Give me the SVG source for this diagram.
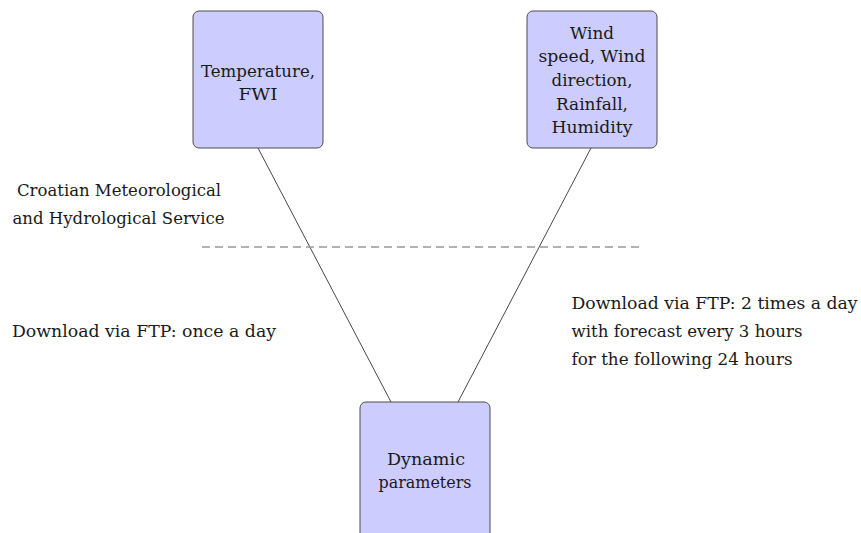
<svg xmlns="http://www.w3.org/2000/svg" width="861" height="533" viewBox="0 0 861 533">
<style>
.box{fill:#ccccff;stroke:#4d4d4d;stroke-width:1}
text{font-family:'DejaVu Serif','Liberation Serif',serif;font-size:16.5px;fill:#1a1a1a}
.c{text-anchor:middle}
.conn{stroke:#333;stroke-width:0.9;fill:none}
.dash{stroke:#999;stroke-width:1.3;stroke-dasharray:8 5;fill:none}
</style>
<rect width="861" height="533" fill="#fff"/>
<g id="connectors">
<line class="conn" x1="258" y1="148" x2="391" y2="402"/>
<line class="conn" x1="591" y1="148" x2="458" y2="402"/>
</g>
<line class="dash" x1="202" y1="247" x2="643" y2="247"/>
<g id="temperature">
<rect class="box" x="193" y="11" width="130" height="137" rx="6"/>
<text class="c" x="258" y="77" textLength="114" lengthAdjust="spacingAndGlyphs">Temperature,</text>
<text class="c" x="258" y="100" textLength="39" lengthAdjust="spacingAndGlyphs">FWI</text>
</g>
<g id="wind">
<rect class="box" x="527" y="11" width="130" height="137" rx="6"/>
<text class="c" x="592" y="38.5" textLength="44" lengthAdjust="spacingAndGlyphs">Wind</text>
<text class="c" x="592" y="61.5" textLength="107" lengthAdjust="spacingAndGlyphs">speed, Wind</text>
<text class="c" x="592" y="85.5" textLength="81" lengthAdjust="spacingAndGlyphs">direction,</text>
<text class="c" x="592" y="109.5" textLength="72" lengthAdjust="spacingAndGlyphs">Rainfall,</text>
<text class="c" x="592" y="132.5" textLength="81" lengthAdjust="spacingAndGlyphs">Humidity</text>
</g>
<g id="dynamic">
<rect class="box" x="360" y="402" width="130" height="145" rx="6"/>
<text class="c" x="426" y="465" textLength="78" lengthAdjust="spacingAndGlyphs">Dynamic</text>
<text class="c" x="425" y="488" textLength="93" lengthAdjust="spacingAndGlyphs">parameters</text>
</g>
<g id="labels">
<text x="17" y="195.5" textLength="204" lengthAdjust="spacingAndGlyphs">Croatian Meteorological</text>
<text x="12.5" y="223.5" textLength="212" lengthAdjust="spacingAndGlyphs">and Hydrological Service</text>
<text x="12" y="336.5" textLength="264" lengthAdjust="spacingAndGlyphs">Download via FTP: once a day</text>
<text x="571.5" y="308.5" textLength="286" lengthAdjust="spacingAndGlyphs">Download via FTP: 2 times a day</text>
<text x="571.5" y="336.5" textLength="231" lengthAdjust="spacingAndGlyphs">with forecast every 3 hours</text>
<text x="571.5" y="364.5" textLength="221" lengthAdjust="spacingAndGlyphs">for the following 24 hours</text>
</g>
</svg>
